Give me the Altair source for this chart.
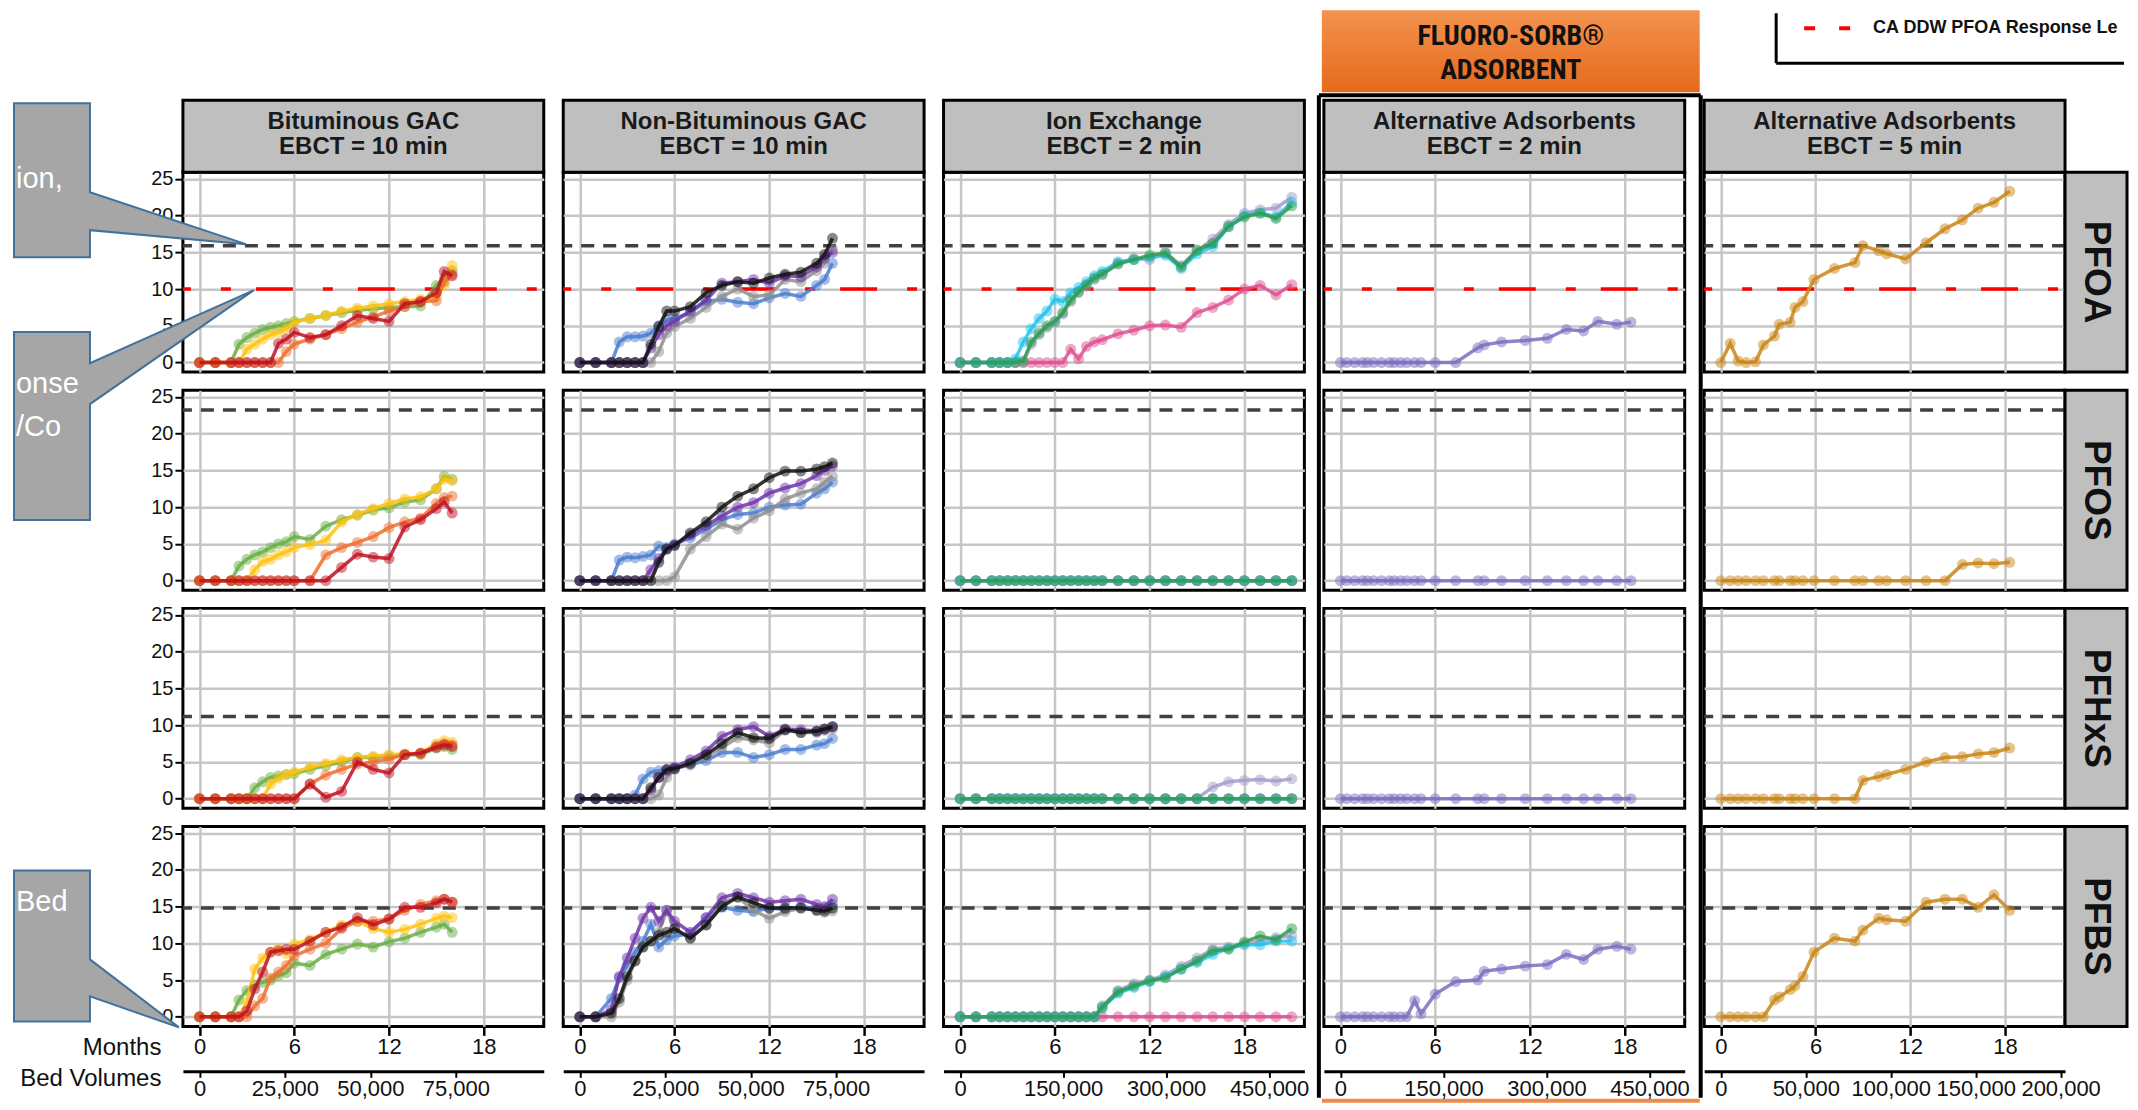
import altair as alt
import pandas as pd

# ------------------------------------------------------------------ text / ticks
ANALYTES = ["PFOA", "PFOS", "PFHxS", "PFBS"]
HEAD_LINE1 = ["Bituminous GAC", "Non-Bituminous GAC", "Ion Exchange",
              "Alternative Adsorbents", "Alternative Adsorbents"]
HEAD_LINE2 = ["EBCT = 10 min", "EBCT = 10 min", "EBCT = 2 min", "EBCT = 2 min", "EBCT = 5 min"]
MONTH_TICKS = [0, 6, 12, 18]
CONC_TICKS = [0, 5, 10, 15, 20, 25]
INFLUENT = [15.9, 23.2, 11.2, 14.8]          # dashed grey line per analyte
RESPONSE_LEVEL = [10]                          # red CA DDW PFOA response level
BV_TICKS_10 = [0, 25000, 50000, 75000]
BV_TICKS_2 = [0, 150000, 300000, 450000]
BV_TICKS_5 = [0, 50000, 100000, 150000, 200000]
BV_PER_MONTH = [4620, 4620, 23000, 23000, 9293]
CALLOUT_TEXT = ["ion,", "onse", "/Co", "Bed"]
BADGE_TEXT = ["FLUORO-SORB®", "ADSORBENT"]
LEGEND_TEXT = ["CA DDW PFOA Response Le"]

# ------------------------------------------------------------------ sample times (months)
T_GAC = [0, 1, 2, 2.5, 3, 3.5, 4, 4.5, 5, 5.5, 6, 7, 8, 9, 10, 11, 12, 13, 14, 15, 15.5, 16]
T_IX = [0, 1, 2, 2.5, 3, 3.5, 4, 4.5, 5, 5.5, 6, 6.5, 7, 7.5, 8, 8.5, 9, 10, 11, 12, 13, 14,
        15, 16, 17, 18, 19, 20, 21]
T_AA2 = [0, 0.4, 0.9, 1.4, 1.7, 2.1, 2.6, 3.1, 3.4, 3.8, 4.2, 4.7, 5.1, 6.0, 7.3, 8.7, 9.1,
         10.2, 11.7, 13.1, 14.3, 15.4, 16.3, 17.5, 18.4]
T_AA5 = [0, 0.6, 1.1, 1.6, 2.2, 2.7, 3.4, 3.7, 4.4, 4.7, 5.2, 5.9, 7.2, 8.5, 9.0, 10.0, 10.5,
         11.7, 13.0, 14.2, 15.3, 16.3, 17.3, 18.3]

# ------------------------------------------------------------------ Bituminous GAC
BIT_PFOA_GREEN = [0, 0, 0, 2.5, 3.4, 4.0, 4.5, 4.8, 5.0, 5.3, 5.6, 6.0, 6.4, 6.8, 7.1, 7.3, 7.5, 7.6, 7.7, 10.5, 11.5, 12.5]
BIT_PFOA_YELLOW = [0, 0, 0, 0, 1.8, 2.5, 3.2, 3.8, 4.1, 4.6, 5.5, 6.0, 6.4, 7.0, 7.4, 7.7, 8.0, 8.3, 8.6, 9.0, 10.5, 13.2]
BIT_PFOA_ORANGE = [0, 0, 0, 0, 0, 0, 0, 0, 0, 1.5, 2.5, 3.2, 3.8, 4.6, 5.5, 6.2, 7.0, 7.6, 8.3, 8.4, 11.0, 12.0]
BIT_PFOA_RED = [0, 0, 0, 0, 0, 0, 0, 0, 2.6, 3.2, 4.1, 3.4, 3.8, 5.0, 6.4, 6.0, 5.6, 8.0, 8.3, 9.5, 12.4, 11.8]
BIT_PFOS_GREEN = [0, 0, 0, 2.0, 2.9, 3.5, 3.9, 4.5, 5.0, 5.3, 6.0, 5.6, 7.4, 8.3, 8.9, 9.6, 9.9, 10.7, 11.0, 12.5, 14.2, 13.8]
BIT_PFOS_YELLOW = [0, 0, 0, 0, 0, 1.5, 2.6, 2.9, 3.5, 3.9, 4.5, 4.9, 5.5, 8.0, 9.0, 9.8, 10.5, 11.1, 11.4, 12.5, 13.8, 13.6]
BIT_PFOS_ORANGE = [0] * 12 + [3.5, 4.5, 5.2, 6.0, 7.2, 8.0, 8.5, 10.5, 11.3, 11.5]
BIT_PFOS_RED = [0] * 13 + [1.8, 3.6, 3.2, 3.0, 7.3, 8.3, 9.8, 10.7, 9.2]
BIT_PFHXS_GREEN = [0, 0, 0, 0, 0, 1.5, 2.3, 2.9, 3.1, 3.3, 3.4, 4.0, 4.5, 5.0, 5.6, 5.6, 5.8, 6.0, 6.0, 6.9, 7.1, 6.7]
BIT_PFHXS_YELLOW = [0, 0, 0, 0, 0, 0, 0, 2.0, 2.8, 3.3, 3.6, 4.3, 4.8, 5.3, 5.6, 5.8, 6.0, 6.1, 6.2, 7.5, 7.9, 7.7]
BIT_PFHXS_ORANGE = [0] * 11 + [2.0, 3.2, 4.0, 4.7, 5.0, 5.4, 6.0, 6.2, 7.2, 7.5, 7.3]
BIT_PFHXS_RED = [0] * 11 + [2.0, 0.2, 1.0, 5.0, 4.0, 3.5, 6.0, 6.2, 7.0, 7.3, 7.1]
BIT_PFBS_GREEN = [0, 0, 0, 2.3, 3.6, 4.3, 4.7, 5.0, 5.6, 6.0, 7.3, 7.0, 8.5, 9.2, 9.9, 9.5, 10.2, 10.7, 11.5, 12.2, 12.6, 11.5]
BIT_PFBS_YELLOW = [0, 0, 0, 0, 2.0, 6.5, 8.0, 8.8, 9.2, 8.6, 9.9, 10.5, 11.5, 12.5, 13.0, 12.0, 11.5, 11.9, 12.6, 13.4, 13.7, 13.5]
BIT_PFBS_ORANGE = [0, 0, 0, 0, 0, 1.5, 2.5, 5.3, 6.1, 7.0, 8.3, 9.2, 10.0, 12.0, 13.0, 13.0, 13.3, 14.5, 15.3, 15.8, 16.0, 15.6]
BIT_PFBS_RED = [0, 0, 0, 0, 0.8, 3.8, 6.1, 8.8, 9.0, 9.2, 9.2, 10.3, 11.5, 12.2, 13.5, 12.5, 13.3, 14.9, 14.9, 15.5, 16.0, 15.6]

# ------------------------------------------------------------------ Non-Bituminous GAC
NB_PFOA_BLUE = [0, 0, 0, 2.8, 3.5, 3.5, 3.6, 4.0, 5.0, 5.8, 6.0, 6.8, 8.3, 8.6, 8.2, 8.0, 8.8, 9.4, 9.0, 10.5, 11.3, 13.5]
NB_PFOA_GRAY = [0, 0, 0, 0, 0, 0, 0, 0, 1.5, 4.0, 4.9, 6.0, 7.5, 9.0, 10.0, 9.0, 9.2, 11.3, 11.0, 12.5, 13.5, 15.4]
NB_PFOA_PURPLE = [0, 0, 0, 0, 0, 0, 0, 2.0, 3.8, 5.0, 5.6, 7.0, 8.5, 10.8, 11.0, 11.3, 10.8, 11.8, 11.7, 13.0, 14.2, 15.0]
NB_PFOA_BLACK = [0, 0, 0, 0, 0, 0, 0, 2.5, 4.9, 7.0, 7.0, 7.6, 9.5, 10.5, 11.0, 10.8, 11.5, 12.0, 12.3, 13.5, 14.7, 16.9]
NB_PFOS_BLUE = [0, 0, 0, 2.8, 3.2, 3.1, 3.3, 3.5, 4.7, 4.5, 5.0, 5.8, 7.0, 8.3, 9.0, 9.2, 10.0, 10.3, 10.4, 11.9, 12.5, 13.4]
NB_PFOS_GRAY = [0, 0, 0, 0, 0, 0, 0, 0, 0, 0, 0.5, 4.3, 6.0, 7.7, 7.0, 8.5, 9.5, 11.1, 11.9, 12.5, 13.4, 14.2]
NB_PFOS_PURPLE = [0, 0, 0, 0, 0, 0, 0, 1.5, 3.0, 4.3, 4.8, 6.2, 7.5, 8.8, 10.0, 10.6, 11.9, 12.6, 13.2, 14.3, 15.0, 15.6]
NB_PFOS_BLACK = [0, 0, 0, 0, 0, 0, 0, 0, 2.5, 4.3, 4.8, 6.5, 8.0, 10.0, 11.5, 12.5, 14.0, 14.9, 14.9, 15.2, 15.5, 16.0]
NB_PFHXS_BLUE = [0, 0, 0, 0, 0, 0.5, 2.7, 3.6, 3.8, 3.9, 4.1, 4.6, 5.2, 6.3, 6.3, 5.6, 6.0, 6.7, 6.7, 7.3, 7.5, 8.2]
NB_PFHXS_GRAY = [0, 0, 0, 0, 0, 0, 0, 0, 0.5, 2.9, 4.0, 4.8, 5.7, 7.0, 8.3, 8.0, 7.6, 9.3, 9.0, 9.0, 9.3, 9.5]
NB_PFHXS_PURPLE = [0, 0, 0, 0, 0, 0, 0, 1.2, 2.9, 3.8, 4.3, 5.3, 6.5, 8.5, 9.4, 9.8, 8.5, 9.5, 9.4, 9.2, 9.5, 9.8]
NB_PFHXS_BLACK = [0, 0, 0, 0, 0, 0, 0, 1.5, 2.9, 4.0, 4.1, 4.8, 6.0, 7.5, 9.0, 8.3, 8.2, 9.4, 9.0, 9.2, 9.5, 9.8]
NB_PFBS_BLUE = [0, 0, 2.5, 5.3, 7.0, 8.8, 10.3, 12.6, 9.5, 10.5, 11.0, 11.3, 13.5, 14.9, 14.5, 14.3, 14.8, 14.6, 15.0, 14.7, 14.8, 15.3]
NB_PFBS_GRAY = [0, 0, 0, 2.0, 5.0, 7.6, 9.5, 10.3, 11.5, 14.5, 12.0, 10.7, 12.5, 15.5, 16.3, 14.5, 13.4, 14.3, 14.8, 14.5, 14.2, 14.4]
NB_PFBS_PURPLE = [0, 0, 1.0, 5.5, 8.0, 10.7, 13.4, 14.9, 13.0, 14.5, 13.0, 11.5, 13.5, 16.2, 16.8, 16.2, 15.6, 15.8, 16.0, 15.3, 15.0, 16.0]
NB_PFBS_BLACK = [0, 0, 0.5, 2.5, 5.5, 7.6, 9.5, 10.3, 11.1, 11.5, 12.0, 10.7, 12.5, 15.0, 16.3, 15.5, 14.8, 14.8, 14.8, 14.5, 14.4, 14.8]

# ------------------------------------------------------------------ Ion Exchange
IX_PFOA_PINK = [0] * 12 + [1.8, 0.5, 2.2, 2.8, 3.1, 3.9, 4.4, 5.0, 5.1, 4.8, 6.8, 7.5, 8.5, 10.0, 10.5, 9.2, 10.6]
IX_PFOA_LAVENDER = [0, 0, 0, 0, 0, 0, 0, 2.5, 3.8, 4.8, 5.5, 6.6, 8.3, 9.5, 10.4, 11.3, 12.0, 13.5, 14.2, 14.0, 15.0, 13.2, 15.2, 16.8, 18.8, 20.3, 20.8, 21.0, 22.5]
IX_PFOA_CYAN = [0, 0, 0, 0, 0, 0.5, 2.8, 4.6, 6.0, 7.0, 8.6, 8.3, 9.5, 10.2, 11.0, 11.8, 12.4, 13.7, 14.0, 14.3, 14.6, 12.8, 14.8, 15.8, 18.5, 20.0, 20.4, 19.8, 21.8]
IX_PFOA_GREEN = [0, 0, 0, 0, 0, 0, 0.2, 2.8, 4.0, 5.0, 5.6, 6.8, 8.5, 9.6, 10.6, 11.5, 12.0, 13.4, 14.0, 14.6, 14.9, 13.0, 15.3, 16.2, 18.5, 19.8, 20.3, 19.6, 21.3]
IX_PFOS_PINK = [0] * 29
IX_PFOS_LAVENDER = [0] * 29
IX_PFOS_CYAN = [0] * 29
IX_PFOS_GREEN = [0] * 29
IX_PFHXS_PINK = [0] * 29
IX_PFHXS_LAVENDER = [0] * 23 + [1.6, 2.3, 2.5, 2.6, 2.4, 2.7]
IX_PFHXS_CYAN = [0] * 29
IX_PFHXS_GREEN = [0] * 29
IX_PFBS_PINK = [0] * 29
IX_PFBS_LAVENDER = [0] * 16 + [1.5, 3.6, 4.5, 5.0, 5.7, 6.9, 8.0, 9.2, 9.5, 10.0, 10.3, 10.8, 11.0]
IX_PFBS_CYAN = [0] * 16 + [1.2, 3.2, 4.0, 4.8, 5.5, 6.5, 7.4, 8.5, 9.3, 9.8, 9.8, 10.3, 10.3]
IX_PFBS_GREEN = [0] * 16 + [1.3, 3.4, 4.2, 4.9, 5.3, 6.5, 7.6, 9.0, 9.2, 10.2, 11.0, 10.5, 12.0]

# ------------------------------------------------------------------ Alternative adsorbents
AA2_PFOA = [0] * 15 + [2.0, 2.4, 2.8, 3.0, 3.3, 4.5, 4.3, 5.6, 5.2, 5.5]
AA2_PFOS = [0] * 25
AA2_PFHXS = [0] * 25
AA2_PFBS = [0] * 11 + [2.2, 0.4, 3.1, 4.8, 5.0, 6.2, 6.5, 6.9, 7.1, 8.5, 7.8, 9.2, 9.6, 9.2]
AA5_PFOA = [0, 2.6, 0.2, 0, 0.1, 2.4, 3.6, 5.2, 5.5, 7.5, 8.3, 11.3, 12.8, 13.6, 15.9, 15.2, 14.8, 14.1, 16.3, 18.2, 19.4, 21.0, 21.8, 23.3]
AA5_PFOS = [0] * 20 + [2.2, 2.4, 2.3, 2.5]
AA5_PFHXS = [0] * 14 + [2.5, 3.0, 3.3, 4.0, 5.0, 5.6, 5.7, 6.1, 6.3, 6.9]
AA5_PFBS = [0, 0, 0, 0, 0, 0, 2.3, 2.7, 3.7, 4.2, 5.5, 8.8, 10.7, 10.3, 11.8, 13.4, 13.2, 13.0, 15.6, 16.0, 16.0, 14.9, 16.6, 14.5]

# ------------------------------------------------------------------ styling
SANS = "Liberation Sans, Arial, Helvetica, sans-serif"
NARROW = "Liberation Sans Narrow, Arial Narrow, Roboto Condensed, Liberation Sans, Arial, sans-serif"
GRID = "#c6c6c6"
STRIP_FILL = "#bfbfbf"
W, H, HH, SW = 361, 200, 72, 62
XDOM = [-1.05, 21.8]
YDOM = [-1.3, 25.9]

C_GREEN, C_YELLOW, C_ORANGE, C_RED = "#6aaf46", "#ffc20e", "#ef6f2e", "#c0111f"
C_BLUE, C_GRAY, C_PURPLE, C_BLACK = "#4a7ed0", "#8f8f8f", "#7036aa", "#111111"
C_PINK, C_LAV, C_CYAN, C_IXGREEN = "#df4f8f", "#a79bc9", "#20c4ee", "#2e9e4f"
C_AA2, C_AA5 = "#7b6dbf", "#c98516"

COLUMN_TIMES = [T_GAC, T_GAC, T_IX, T_AA2, T_AA5]
COLUMN_SERIES = [
    [(C_GREEN, [BIT_PFOA_GREEN, BIT_PFOS_GREEN, BIT_PFHXS_GREEN, BIT_PFBS_GREEN]),
     (C_YELLOW, [BIT_PFOA_YELLOW, BIT_PFOS_YELLOW, BIT_PFHXS_YELLOW, BIT_PFBS_YELLOW]),
     (C_ORANGE, [BIT_PFOA_ORANGE, BIT_PFOS_ORANGE, BIT_PFHXS_ORANGE, BIT_PFBS_ORANGE]),
     (C_RED, [BIT_PFOA_RED, BIT_PFOS_RED, BIT_PFHXS_RED, BIT_PFBS_RED])],
    [(C_BLUE, [NB_PFOA_BLUE, NB_PFOS_BLUE, NB_PFHXS_BLUE, NB_PFBS_BLUE]),
     (C_GRAY, [NB_PFOA_GRAY, NB_PFOS_GRAY, NB_PFHXS_GRAY, NB_PFBS_GRAY]),
     (C_PURPLE, [NB_PFOA_PURPLE, NB_PFOS_PURPLE, NB_PFHXS_PURPLE, NB_PFBS_PURPLE]),
     (C_BLACK, [NB_PFOA_BLACK, NB_PFOS_BLACK, NB_PFHXS_BLACK, NB_PFBS_BLACK])],
    [(C_PINK, [IX_PFOA_PINK, IX_PFOS_PINK, IX_PFHXS_PINK, IX_PFBS_PINK]),
     (C_LAV, [IX_PFOA_LAVENDER, IX_PFOS_LAVENDER, IX_PFHXS_LAVENDER, IX_PFBS_LAVENDER]),
     (C_CYAN, [IX_PFOA_CYAN, IX_PFOS_CYAN, IX_PFHXS_CYAN, IX_PFBS_CYAN]),
     (C_IXGREEN, [IX_PFOA_GREEN, IX_PFOS_GREEN, IX_PFHXS_GREEN, IX_PFBS_GREEN])],
    [(C_AA2, [AA2_PFOA, AA2_PFOS, AA2_PFHXS, AA2_PFBS])],
    [(C_AA5, [AA5_PFOA, AA5_PFOS, AA5_PFHXS, AA5_PFBS])],
]
BV_TICKS = [BV_TICKS_10, BV_TICKS_10, BV_TICKS_2, BV_TICKS_2, BV_TICKS_5]

ONE = pd.DataFrame({"k": [0]})


def x_axis(bottom, left):
    if not bottom:
        return alt.Axis(values=MONTH_TICKS, grid=True, gridColor=GRID, gridWidth=2.5,
                        domain=False, ticks=False, labels=False, title=None)
    return alt.Axis(values=MONTH_TICKS, grid=True, gridColor=GRID, gridWidth=2.5, domain=False,
                    ticks=True, tickColor="black", tickWidth=2.5, tickSize=9,
                    labels=True, labelFont=SANS, labelFontSize=22, labelColor="#111",
                    labelPadding=1, labelFlush=False, labelOverlap=False,
                    title=("Months" if left else None), titleAngle=0, titleAlign="right",
                    titleBaseline="middle", titleX=-22, titleY=21, titleFont=SANS,
                    titleFontSize=24, titleFontWeight="normal", titleColor="#111")


def y_axis(left):
    return alt.Axis(values=CONC_TICKS, grid=True, gridColor=GRID, gridWidth=2.5, domain=False,
                    ticks=left, tickColor="black", tickWidth=2, tickSize=8,
                    labels=left, labelFont=SANS, labelFontSize=20, labelColor="#111",
                    labelPadding=2, title=None)


def bv_layer(ci, left):
    ticks = BV_TICKS[ci]
    k = BV_PER_MONTH[ci]
    ax = alt.Axis(values=ticks, format=",d", orient="bottom", offset=45, domain=True,
                  domainColor="black", domainWidth=3, ticks=True, tickColor="black",
                  tickWidth=2, tickSize=6, labels=True, labelFont=SANS, labelFontSize=22,
                  labelColor="#111", labelPadding=1, labelFlush=False, labelOverlap=False,
                  grid=False, title=("Bed Volumes" if left else None), titleAngle=0,
                  titleAlign="right", titleBaseline="middle", titleX=-22, titleY=7,
                  titleFont=SANS, titleFontSize=24, titleFontWeight="normal", titleColor="#111")
    return alt.Chart(pd.DataFrame({"bv": ticks})).mark_point(opacity=0).encode(
        x=alt.X("bv:Q", scale=alt.Scale(domain=[XDOM[0] * k, XDOM[1] * k], nice=False, zero=False), axis=ax),
        y=alt.value(0))


def bubble(path):
    return alt.Chart(ONE).mark_point(shape=path, size=4, filled=True, fill="#a6a6a6",
                                     stroke="#41719c", strokeWidth=2, opacity=1,
                                     clip=False).encode(x=alt.value(0), y=alt.value(0))


def label(s, x, y, **kw):
    return alt.Chart(pd.DataFrame({"s": [s]})).mark_text(clip=False, **kw).encode(
        text="s:N", x=alt.value(x), y=alt.value(y))


def box(x, x2, y, y2, **kw):
    return alt.Chart(ONE).mark_rect(clip=False, **kw).encode(
        x=alt.value(x), x2=alt.value(x2), y=alt.value(y), y2=alt.value(y2))


def rule(**enc_and_style):
    enc = {k: alt.value(v) for k, v in enc_and_style.items() if k in ("x", "x2", "y", "y2")}
    style = {k: v for k, v in enc_and_style.items() if k not in ("x", "x2", "y", "y2")}
    return alt.Chart(ONE).mark_rule(clip=False, **style).encode(**enc)


TOP = -HH - 90          # top of the badge / legend area, relative to the first plot row


def decorations(ci, ri):
    out = []
    if ri == 0:
        # column header box (sits directly above the plot)
        out += [
            box(0, W, -HH, 0, fill=STRIP_FILL, stroke="black", strokeWidth=3),
            label(HEAD_LINE1[ci], W / 2, -HH + 22, font=SANS, fontSize=24, fontWeight="bold",
                  color="#1a1a1a", baseline="middle"),
            label(HEAD_LINE2[ci], W / 2, -HH + 47, font=SANS, fontSize=24, fontWeight="bold",
                  color="#1a1a1a", baseline="middle"),
        ]
        if ci == 3:
            grad = alt.LinearGradient(gradient="linear",
                                      stops=[alt.GradientStop(color="#f3924f", offset=0),
                                             alt.GradientStop(color="#e66a1c", offset=1)],
                                      x1=0, x2=0, y1=0, y2=1)
            out += [
                box(-2, 376, TOP, -HH - 8, fill=grad),
                label(BADGE_TEXT[0], 187, TOP + 27, font=NARROW, fontSize=28, fontWeight="bold",
                      color="#111", baseline="middle"),
                label(BADGE_TEXT[1], 187, TOP + 61, font=NARROW, fontSize=28, fontWeight="bold",
                      color="#111", baseline="middle"),
                rule(x=-5, y=-HH - 5, y2=926, color="black", strokeWidth=4),
                rule(x=377, y=-HH - 5, y2=926, color="black", strokeWidth=4),
                rule(x=-5, x2=377, y=-HH - 5, color="black", strokeWidth=4),
                box(-2, 376, 927, 931, fill="#f08a4b"),
            ]
        if ci == 4:
            out += [
                rule(x=72, y=TOP + 3, y2=TOP + 53, color="black", strokeWidth=3),
                rule(x=72, x2=W + SW - 3, y=TOP + 53, color="black", strokeWidth=3),
                rule(x=100, x2=147, y=TOP + 18, color="#ff0000", strokeWidth=4, strokeDash=[11, 24]),
                label(LEGEND_TEXT[0], 169, TOP + 18, font=SANS, fontSize=18, fontWeight="bold",
                      color="#111", align="left", baseline="middle"),
            ]
    if ci == 4:
        # analyte strip on the right of the last column
        out += [
            box(W, W + SW, 0, H, fill=STRIP_FILL, stroke="black", strokeWidth=3),
            label(ANALYTES[ri], W + SW / 2, H / 2, angle=90, font=SANS, fontSize=37,
                  fontWeight="bold", color="#111", baseline="middle"),
        ]
    if ci == 0 and ri == 0:
        out += [
            bubble("M-169,-69L-93,-69L-93,20L63,72L-93,58L-93,85L-169,85Z"),
            bubble("M-169,160L-93,160L-93,191L71,118L-93,232L-93,348L-169,348Z"),
            label(CALLOUT_TEXT[0], -167, 7, align="left", baseline="middle", font=SANS, fontSize=29, color="white"),
            label(CALLOUT_TEXT[1], -167, 212, align="left", baseline="middle", font=SANS, fontSize=29, color="white"),
            label(CALLOUT_TEXT[2], -167, 255, align="left", baseline="middle", font=SANS, fontSize=29, color="white"),
        ]
    if ci == 0 and ri == 3:
        out += [
            bubble("M-169,44L-93,44L-93,133L-4,201L-93,170L-93,195L-169,195Z"),
            label(CALLOUT_TEXT[3], -167, 76, align="left", baseline="middle", font=SANS, fontSize=29, color="white"),
        ]
    return out


def panel(ci, ri):
    times = COLUMN_TIMES[ci]
    left, bottom = ci == 0, ri == 3
    x = alt.X("t:Q", scale=alt.Scale(domain=XDOM, nice=False, zero=False), axis=x_axis(bottom, left))
    y = alt.Y("v:Q", scale=alt.Scale(domain=YDOM, nice=False, zero=False), axis=y_axis(left))
    layers = [alt.Chart(pd.DataFrame({"v": [INFLUENT[ri]]})).mark_rule(
        color="#404040", strokeWidth=3.5, strokeDash=[13, 9]).encode(y=y)]
    if ri == 0:
        layers.append(alt.Chart(pd.DataFrame({"v": RESPONSE_LEVEL})).mark_rule(
            color="#ff0000", strokeWidth=3.5, strokeDash=[37, 25, 10, 30],
            strokeDashOffset=55).encode(y=y))
    for color, rowvals in COLUMN_SERIES[ci]:
        base = alt.Chart(pd.DataFrame({"t": times, "v": rowvals[ri]}))
        layers.append(base.mark_line(color=color, strokeWidth=3.5, opacity=0.85).encode(x=x, y=y, order="t:Q"))
        layers.append(base.mark_circle(color=color, size=120, opacity=0.5).encode(x=x, y=y))
    layers += decorations(ci, ri)
    inner = alt.layer(*layers)
    if bottom:
        return alt.layer(inner, bv_layer(ci, left)).resolve_scale(x="independent").properties(width=W, height=H)
    return inner.properties(width=W, height=H)


panels = [panel(c, r) for r in range(4) for c in range(5)]
chart = alt.concat(*panels, columns=5, spacing={"row": 18.2, "column": 19.5},
                   bounds="flush").properties(padding=0).configure_view(stroke="black", strokeWidth=3)

chart.save("out.html", embed_options={"renderer": "svg", "actions": False})
